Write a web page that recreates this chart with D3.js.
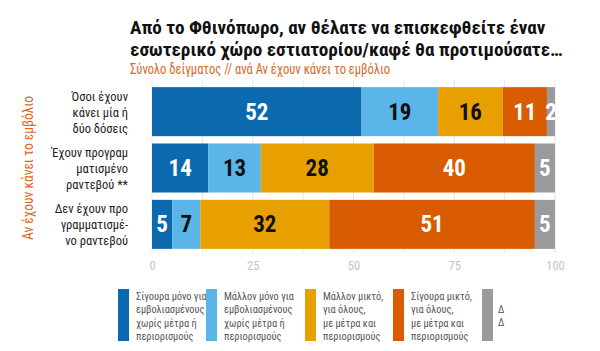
<!DOCTYPE html>
<html>
<head>
<meta charset="utf-8">
<script src="https://cdn.jsdelivr.net/npm/d3@7"></script>
<style>
  body { margin: 0; background: #fff; }
  svg text { font-family: "Roboto Condensed", "Liberation Sans Narrow", "DejaVu Sans Condensed", Roboto, sans-serif; }
</style>
</head>
<body>
<div id="plot"></div>
<script>
// categories (rows) and their wrapped labels
const groups = ['Όσοι έχουν κάνει μία ή δύο δόσεις', 'Έχουν προγραμματισμένο ραντεβού **', 'Δεν έχουν προγραμματισμένο ραντεβού']
const groupLines = [
  ['Όσοι έχουν', 'κάνει μία ή', 'δύο δόσεις'],
  ['Έχουν προγραμ', 'ματισμένο', 'ραντεβού **'],
  ['Δεν έχουν προ', 'γραμματισμέ-', 'νο ραντεβού']
]
const series = ['Σίγουρα μόνο για εμβολιασμένους χωρίς μέτρα ή περιορισμούς',
  'Μάλλον μόνο για εμβολιασμένους χωρίς μέτρα ή περιορισμούς',
  'Μάλλον μικτό, για όλους, με μέτρα και περιορισμούς',
  'Σίγουρα μικτό, για όλους, με μέτρα και περιορισμούς',
  'ΔΓ/ΔΑ']
const legendLines = [
  ['Σίγουρα μόνο για', 'εμβολιασμένους', 'χωρίς μέτρα ή', 'περιορισμούς'],
  ['Μάλλον μόνο για', 'εμβολιασμένους', 'χωρίς μέτρα ή', 'περιορισμούς'],
  ['Μάλλον μικτό,', 'για όλους,', 'με μέτρα και', 'περιορισμούς'],
  ['Σίγουρα μικτό,', 'για όλους,', 'με μέτρα και', 'περιορισμούς'],
  ['Δ', 'Δ']
]
const definitelyOnlyVax = [52, 14, 5]
const probablyOnlyVax = [19, 13, 7]
const probablyMixed = [16, 28, 32]
const definitelyMixed = [11, 40, 51]
const dontKnow = [2, 5, 5]
const xTicks = [0, 25, 50, 75, 100]

const colors = ['#0b6aae', '#5bb5e8', '#e89f00', '#d95c03', '#9a9a9a']
const labelColors = ['#fff', '#111', '#111', '#fff', '#fff']

const width = 600, height = 351
const svg = d3.select('#plot').append('svg')
  .attr('width', width).attr('height', height)

// titles
svg.append('text').attr('x', 130).attr('y', 34)
  .attr('font-size', 19.2).attr('font-weight', 'bold').attr('fill', '#111')
  .text('Από το Φθινόπωρο, αν θέλατε να επισκεφθείτε έναν')
svg.append('text').attr('x', 130).attr('y', 56)
  .attr('font-size', 19.2).attr('font-weight', 'bold').attr('fill', '#111')
  .text('εσωτερικό χώρο εστιατορίου/καφέ θα προτιμούσατε…')
// no condensed font installed, so squeeze horizontally
svg.append('text').attr('transform', 'translate(130,74) scale(0.9,1)')
  .attr('font-size', 14).attr('fill', '#d9691f')
  .text('Σύνολο δείγματος // ανά Αν έχουν κάνει το εμβόλιο')

const x = d3.scaleLinear().domain([0, 100]).range([152, 555])
const y = d3.scaleBand().domain(groups).range([86, 250]).paddingInner(0.13).paddingOuter(0.02)

// grid
svg.append('g').selectAll('line')
  .data(d3.range(0, 100.1, 12.5))
  .join('line')
  .attr('x1', d => x(d)).attr('x2', d => x(d))
  .attr('y1', 80).attr('y2', 253)
  .attr('stroke', '#e6e6e6').attr('stroke-width', 1)

// axis
const axis = svg.append('g').attr('transform', 'translate(0,253)')
  .call(d3.axisBottom(x).tickValues(xTicks).tickSize(0).tickPadding(8))
axis.select('.domain').remove()
axis.selectAll('text').attr('font-size', 12.5).attr('fill', '#c4c4c4')
  .style('font-family', '"Roboto Condensed", "Liberation Sans Narrow", "DejaVu Sans Condensed", Roboto, sans-serif')

// stack
const rows = groups.map((g, i) => ({
  group: g,
  s0: definitelyOnlyVax[i], s1: probablyOnlyVax[i], s2: probablyMixed[i], s3: definitelyMixed[i], s4: dontKnow[i]
}))
const stacked = d3.stack().keys(['s0', 's1', 's2', 's3', 's4'])(rows)

svg.append('clipPath').attr('id', 'plotclip')
  .append('rect').attr('x', x(0)).attr('y', 80).attr('width', x(100) - x(0)).attr('height', 175)

const layers = svg.append('g').selectAll('g').data(stacked).join('g')
  .attr('fill', (d, i) => colors[i])
layers.selectAll('rect').data(d => d).join('rect')
  .attr('x', d => x(d[0]))
  .attr('width', d => x(d[1]) - x(d[0]))
  .attr('y', d => y(d.data.group))
  .attr('height', y.bandwidth())

const labels = svg.append('g').attr('clip-path', 'url(#plotclip)')
stacked.forEach((layer, i) => {
  labels.selectAll(null).data(layer).join('text')
    .attr('x', d => (x(d[0]) + x(d[1])) / 2)
    .attr('y', d => y(d.data.group) + y.bandwidth() / 2 + 8)
    .attr('text-anchor', 'middle')
    .attr('font-size', 23).attr('font-weight', 'bold')
    .attr('fill', labelColors[i])
    .text(d => d[1] - d[0])
})

// category labels
groups.forEach((g, i) => {
  const cy = y(g) + y.bandwidth() / 2
  svg.append('text').attr('text-anchor', 'end').attr('font-size', 12.5).attr('fill', '#222')
    .selectAll('tspan').data(groupLines[i]).join('tspan')
    .attr('x', 128).attr('y', (d, j) => cy + (j - 1) * 16 + 5)
    .text(d => d)
})

// rotated y title
svg.append('text')
  .attr('transform', 'translate(33,168) rotate(-90) scale(0.9,1)')
  .attr('text-anchor', 'middle').attr('font-size', 15).attr('fill', '#d9691f')
  .text('Αν έχουν κάνει το εμβόλιο')

// legend
const legendX = [118, 206, 305, 393, 482]
series.forEach((s, i) => {
  const g = svg.append('g').attr('transform', `translate(${legendX[i]},289)`)
  g.append('rect').attr('width', 11).attr('height', 52).attr('fill', colors[i])
  g.append('text').attr('transform', `translate(${i === 4 ? 16 : 18},0) scale(0.9,1)`)
    .attr('font-size', 11.5).attr('fill', '#555')
    .selectAll('tspan').data(legendLines[i]).join('tspan')
    .attr('x', 0).attr('y', (d, j) => 11 + j * 13.5 + (i === 4 ? 13 : 0))
    .text(d => d)
})
</script>
</body>
</html>
